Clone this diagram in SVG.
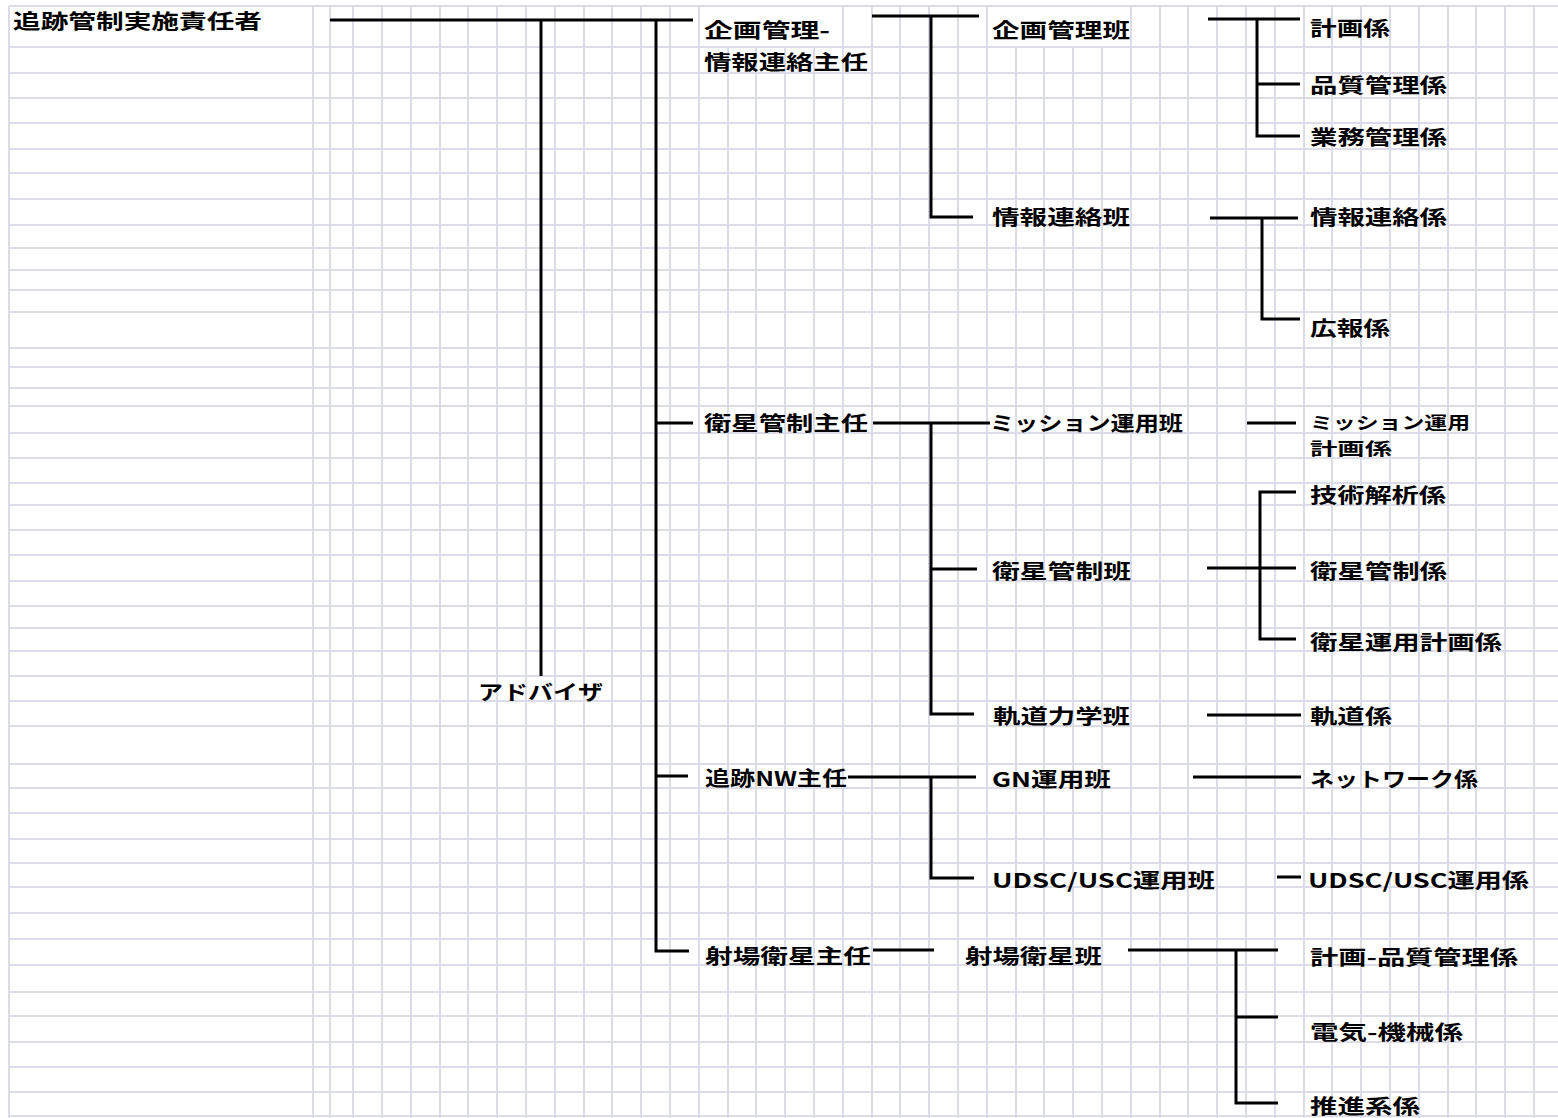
<svg xmlns="http://www.w3.org/2000/svg" width="1558" height="1118" viewBox="0 0 1558 1118">
<style>
.grid{fill:none;stroke:#dcdce8;stroke-width:2}
.con{fill:none;stroke:#000;stroke-width:3;stroke-linecap:butt}
.lbl{font-family:"Noto Sans CJK JP","Noto Sans",sans-serif;font-weight:700;font-size:20px;fill:#000}
.sm{font-size:17px}
.cell{fill:#fff}
</style>
<rect x="0" y="0" width="1558" height="1118" fill="#fff"/>
<g id="grid">
<path class="grid" d="M9 6V1118M313 6V1118M330 6V1118M353 6V1118M382 6V1118M411 6V1118M440 6V1118M468 6V1118M497 6V1118M526 6V1118M555 6V1118M584 6V1118M612 6V1118M641 6V1118M670 6V1118M699 6V1118M728 6V1118M756 6V1118M785 6V1118M814 6V1118M843 6V1118M872 6V1118M900 6V1118M929 6V1118M958 6V1118M987 6V1118M1016 6V1118M1044 6V1118M1073 6V1118M1102 6V1118M1131 6V1118M1160 6V1118M1188 6V1118M1217 6V1118M1246 6V1118M1275 6V1118M1304 6V1118M1332 6V1118M1361 6V1118M1390 6V1118M1419 6V1118M1448 6V1118M1476 6V1118M1505 6V1118M1534 6V1118"/>
<path class="grid" d="M9 6H1558M9 47H1558M9 73H1558M9 98H1558M9 123H1558M9 149H1558M9 173H1558M9 199H1558M9 225H1558M9 248H1558M9 270H1558M9 290H1558M9 312H1558M9 348H1558M9 367H1558M9 388H1558M9 406H1558M9 433H1558M9 458H1558M9 483H1558M9 505H1558M9 530H1558M9 555H1558M9 581H1558M9 606H1558M9 628H1558M9 651H1558M9 676H1558M9 701H1558M9 726H1558M9 764H1558M9 788H1558M9 813H1558M9 839H1558M9 863H1558M9 887H1558M9 913H1558M9 939H1558M9 965H1558M9 992H1558M9 1016H1558M9 1042H1558M9 1067H1558M9 1092H1558M9 1116H1558"/>
<rect class="cell" x="700" y="7" width="142" height="39"/>
<rect class="cell" x="988" y="7" width="142" height="39"/>
</g>
<g id="connectors">
<path class="con" d="M330 20H693"/>
<path class="con" d="M541 20V676"/>
<path class="con" d="M656 20V951H689"/>
<path class="con" d="M656 423H693"/>
<path class="con" d="M656 776H688"/>
<path class="con" d="M872 16H979"/>
<path class="con" d="M931 16V217H973"/>
<path class="con" d="M873 423H990"/>
<path class="con" d="M931 423V714H974"/>
<path class="con" d="M931 569H977"/>
<path class="con" d="M848 777H976"/>
<path class="con" d="M931 777V878H974"/>
<path class="con" d="M873 950H934"/>
<path class="con" d="M1208 19H1300"/>
<path class="con" d="M1257 19V136H1300"/>
<path class="con" d="M1257 84H1300"/>
<path class="con" d="M1210 218H1298"/>
<path class="con" d="M1262 218V319H1300"/>
<path class="con" d="M1247 423H1296"/>
<path class="con" d="M1207 568H1296"/>
<path class="con" d="M1296 492H1260V639H1296"/>
<path class="con" d="M1207 715H1301"/>
<path class="con" d="M1193 777H1301"/>
<path class="con" d="M1277 877H1301"/>
<path class="con" d="M1128 950H1278"/>
<path class="con" d="M1236 950V1103H1278"/>
<path class="con" d="M1236 1017H1278"/>
</g>
<g id="n-chief"><text class="lbl" x="13" y="29" textLength="249" lengthAdjust="spacingAndGlyphs">追跡管制実施責任者</text></g>
<g id="n-advisor"><text class="lbl" x="478" y="700" textLength="125" lengthAdjust="spacingAndGlyphs">アドバイザ</text></g>
<g id="n-plan-info-lead">
<text class="lbl" x="704" y="38" textLength="126" lengthAdjust="spacingAndGlyphs">企画管理-</text>
<text class="lbl" x="704" y="70" textLength="164" lengthAdjust="spacingAndGlyphs">情報連絡主任</text>
</g>
<g id="n-sat-lead"><text class="lbl" x="704" y="431" textLength="164" lengthAdjust="spacingAndGlyphs">衛星管制主任</text></g>
<g id="n-nw-lead"><text class="lbl" x="705" y="786" textLength="142" lengthAdjust="spacingAndGlyphs">追跡NW主任</text></g>
<g id="n-range-lead"><text class="lbl" x="705" y="964" textLength="166" lengthAdjust="spacingAndGlyphs">射場衛星主任</text></g>
<g id="n-plan-team"><text class="lbl" x="992" y="38" textLength="138" lengthAdjust="spacingAndGlyphs">企画管理班</text></g>
<g id="n-info-team"><text class="lbl" x="992" y="225" textLength="138" lengthAdjust="spacingAndGlyphs">情報連絡班</text></g>
<g id="n-mission-team"><text class="lbl" x="990" y="431" textLength="193" lengthAdjust="spacingAndGlyphs">ミッション運用班</text></g>
<g id="n-satctl-team"><text class="lbl" x="992" y="579" textLength="139" lengthAdjust="spacingAndGlyphs">衛星管制班</text></g>
<g id="n-orbit-team"><text class="lbl" x="993" y="724" textLength="137" lengthAdjust="spacingAndGlyphs">軌道力学班</text></g>
<g id="n-gn-team"><text class="lbl" x="992" y="787" textLength="119" lengthAdjust="spacingAndGlyphs">GN運用班</text></g>
<g id="n-udsc-team"><text class="lbl" x="992" y="888" textLength="223" lengthAdjust="spacingAndGlyphs">UDSC/USC運用班</text></g>
<g id="n-range-team"><text class="lbl" x="965" y="964" textLength="137" lengthAdjust="spacingAndGlyphs">射場衛星班</text></g>
<g id="n-plan"><text class="lbl" x="1310" y="36" textLength="80" lengthAdjust="spacingAndGlyphs">計画係</text></g>
<g id="n-quality"><text class="lbl" x="1310" y="93" textLength="137" lengthAdjust="spacingAndGlyphs">品質管理係</text></g>
<g id="n-business"><text class="lbl" x="1310" y="145" textLength="137" lengthAdjust="spacingAndGlyphs">業務管理係</text></g>
<g id="n-info"><text class="lbl" x="1310" y="225" textLength="137" lengthAdjust="spacingAndGlyphs">情報連絡係</text></g>
<g id="n-pr"><text class="lbl" x="1310" y="336" textLength="80" lengthAdjust="spacingAndGlyphs">広報係</text></g>
<g id="n-mission-plan">
<text class="lbl sm" x="1310" y="429" textLength="160" lengthAdjust="spacingAndGlyphs">ミッション運用</text>
<text class="lbl sm" x="1310" y="455" textLength="82" lengthAdjust="spacingAndGlyphs">計画係</text>
</g>
<g id="n-tech"><text class="lbl" x="1310" y="503" textLength="136" lengthAdjust="spacingAndGlyphs">技術解析係</text></g>
<g id="n-satctl"><text class="lbl" x="1310" y="579" textLength="137" lengthAdjust="spacingAndGlyphs">衛星管制係</text></g>
<g id="n-satops"><text class="lbl" x="1310" y="650" textLength="192" lengthAdjust="spacingAndGlyphs">衛星運用計画係</text></g>
<g id="n-orbit"><text class="lbl" x="1310" y="724" textLength="82" lengthAdjust="spacingAndGlyphs">軌道係</text></g>
<g id="n-network"><text class="lbl" x="1310" y="787" textLength="168" lengthAdjust="spacingAndGlyphs">ネットワーク係</text></g>
<g id="n-udsc"><text class="lbl" x="1308" y="888" textLength="221" lengthAdjust="spacingAndGlyphs">UDSC/USC運用係</text></g>
<g id="n-range-quality"><text class="lbl" x="1310" y="965" textLength="208" lengthAdjust="spacingAndGlyphs">計画-品質管理係</text></g>
<g id="n-elec"><text class="lbl" x="1310" y="1040" textLength="153" lengthAdjust="spacingAndGlyphs">電気-機械係</text></g>
<g id="n-prop"><text class="lbl" x="1310" y="1114" textLength="110" lengthAdjust="spacingAndGlyphs">推進系係</text></g>
</svg>
